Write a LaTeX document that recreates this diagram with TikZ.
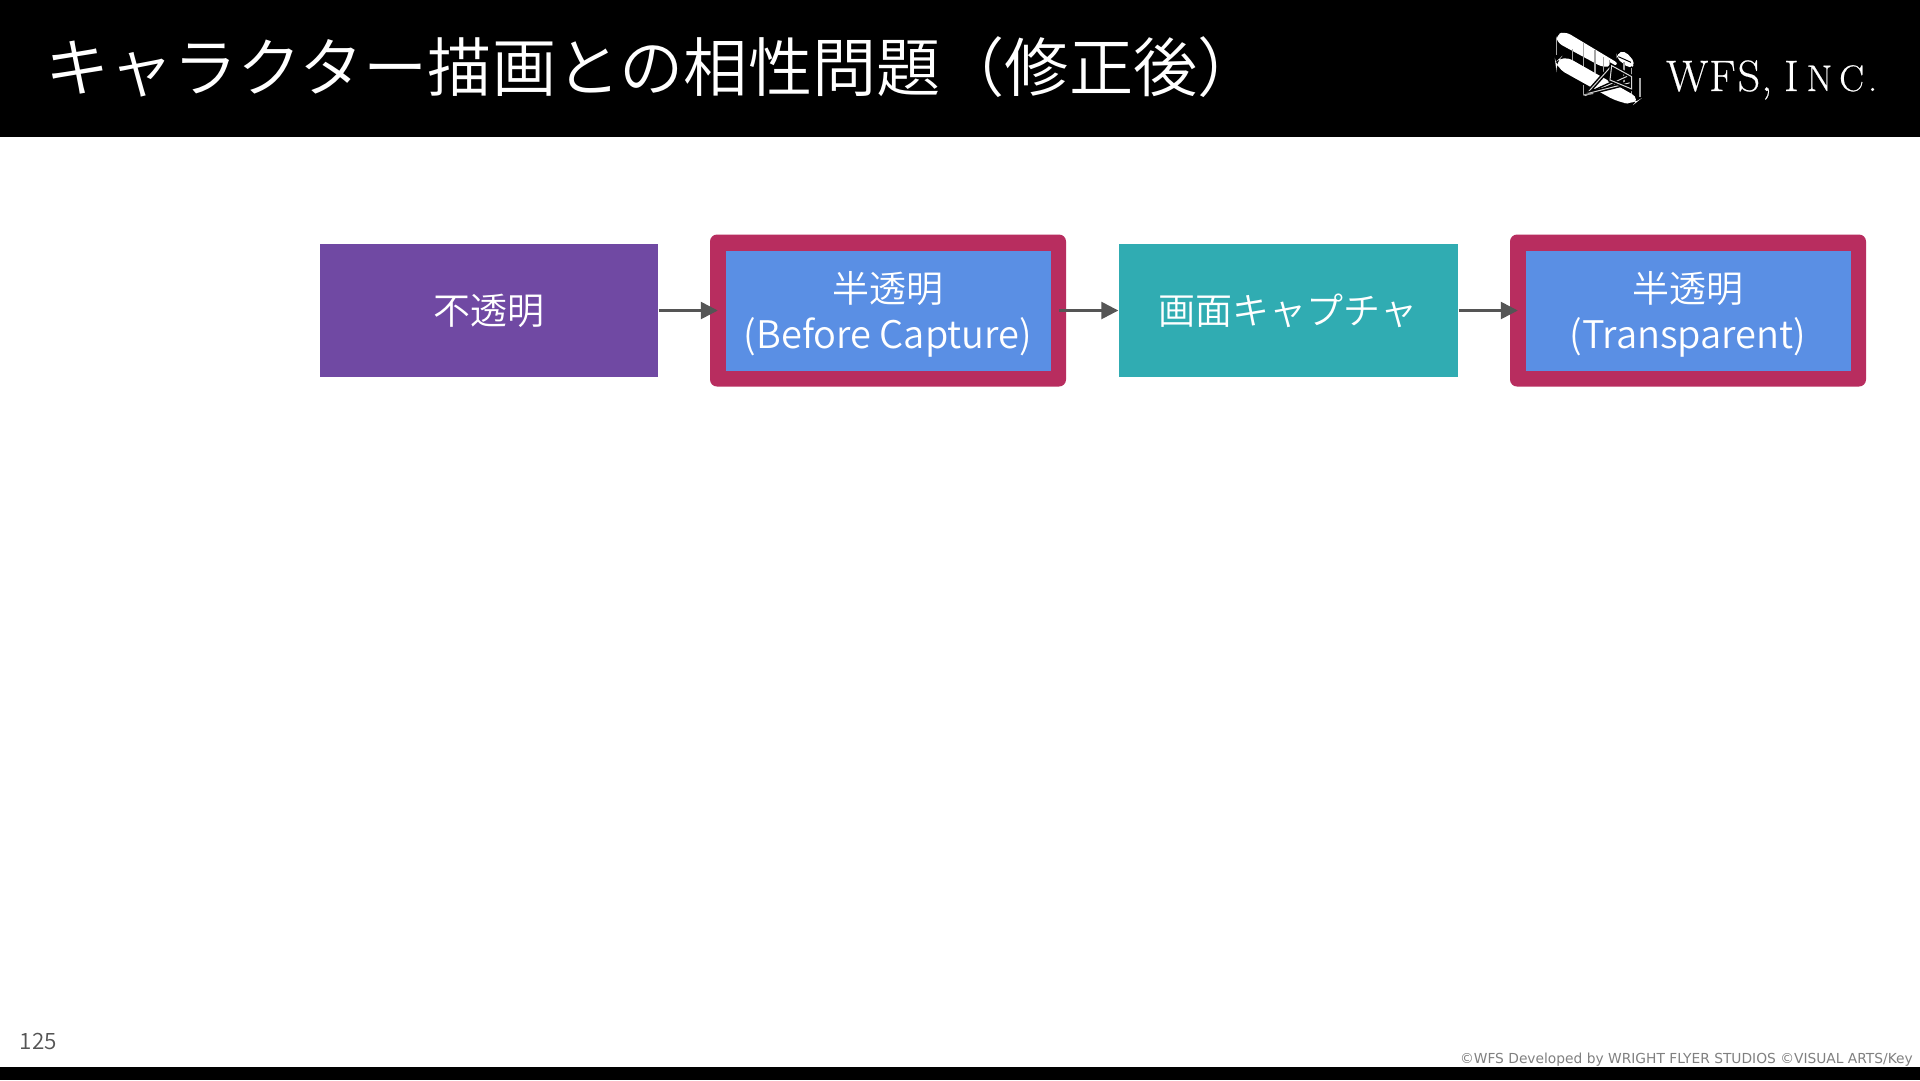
\documentclass[tikz,border=0pt]{standalone}
\usepackage{fontspec}
\setmainfont{Noto Sans CJK JP DemiLight}
\newfontfamily\footfont{DejaVu Sans}
\newfontfamily\logofont[FakeBold=0.5]{Latin Modern Roman}
\usetikzlibrary{arrows.meta}
\definecolor{cpurple}{HTML}{7049A3}
\definecolor{cpink}{HTML}{B82D5F}
\definecolor{cblue}{HTML}{5A8FE4}
\definecolor{cteal}{HTML}{30ACB2}
\definecolor{carrow}{HTML}{555555}
\newcommand{\latinline}[1]{{\fontsize{38}{46.5}\selectfont #1}}
\newcommand{\topstrut}{\rule{0pt}{39pt}}
\tikzset{
  flowbox/.style={inner sep=0pt,text=white,align=center,font=\fontsize{37}{46.5}\selectfont,minimum height=133pt},
  frame/.style={fill=cpink,rounded corners=7pt,inner sep=0pt,minimum width=356pt,minimum height=152pt},
  inbox/.style={flowbox,fill=cblue,minimum width=325pt,minimum height=120pt},
  conn/.style={draw=carrow,line width=2.5pt,-{Triangle[length=17pt,width=17pt]},shorten <=1pt},
  strut/.style={draw=white!65!black,line width=1.5pt},
  rig/.style={draw=black,line width=1.5pt,double=white!85!black,double distance=1pt}
}
\begin{document}
\begin{tikzpicture}[x=1pt,y=-1pt]
\useasboundingbox (0,0) rectangle (1920,1080);
\fill[white] (0,0) rectangle (1920,1080);
\fill[black] (0,0) rectangle (1920,137);
\fill[black] (0,1067) rectangle (1920,1080);
\node[anchor=west,inner sep=0pt,text=white,font=\fontsize{64.2}{64}\selectfont] (title) at (45,67) {キャラクター描画との相性問題（修正後）};
% logo
\begin{scope}[shift={(1550,25)},x=0.3333pt,y=-0.3333pt]
  \fill[white,rounded corners=6pt] (18,30) -- (45,19) -- (210,118) -- (160,128) -- (20,52) -- cycle;
  \fill[white,rounded corners=5pt] (200,85) -- (225,77) -- (257,115) -- (240,132) -- (200,100) -- cycle;
  \draw[black,line width=1pt] (205,95) -- (243,112);
  \foreach \a/\b/\c/\d in {20/40/20/90, 68/72/68/105, 100/55/100/125, 135/75/135/145, 160/95/160/165, 178/105/178/175, 222/110/222/190, 245/130/245/210, 270/160/270/215, 100/180/100/210}
    \draw[strut] (\a,\b) -- (\c,\d);
  \fill[white,rounded corners=10pt] (16,112) -- (40,90) -- (272,222) -- (252,238) -- (205,232) -- (18,128) -- cycle;
  \draw[rig] (105,212) -- (185,122);
  \draw[rig] (105,212) -- (240,150);
  \draw[rig] (115,205) -- (245,172);
  \draw[rig] (185,122) -- (245,155) -- (245,192) -- (180,165) -- cycle;
  \draw[strut] (100,210) -- (130,205);
\end{scope}
\node[anchor=base west,inner sep=0pt,text=white,font={\logofont\fontsize{44}{44}\selectfont}] (logo) at (1666,91) {W\kern 1pt F\kern 2pt S\kern 1pt,\kern 12pt I\fontsize{37}{37}\selectfont\kern 8pt N\kern 7pt C\kern 4pt .};
% flow
\node[flowbox,fill=cpurple,minimum width=338pt] (opaque) at (488.5,310.5) {不透明};
\node[frame] (f1) at (888,310.5) {};
\node[inbox] (before) at (888,310.5) {\topstrut 半透明\\\latinline{(Before Capture)}};
\node[flowbox,fill=cteal,minimum width=339pt] (capture) at (1288,310.5) {画面キャプチャ};
\node[frame] (f2) at (1688,310.5) {};
\node[inbox] (trans) at (1688,310.5) {\topstrut 半透明\\\latinline{(Transparent)}};
\draw[conn] (opaque.east) -- ([xshift=8pt]f1.west);
\draw[conn] ([xshift=-8pt]f1.east) -- (capture.west);
\draw[conn] (capture.east) -- ([xshift=8pt]f2.west);
% footer
\node[anchor=base west,inner sep=0pt,text=carrow,font=\fontsize{22.5}{23}\selectfont] (page) at (19.5,1049) {125};
\node[anchor=base east,inner sep=0pt,text=black!50,font={\footfont\fontsize{13.8}{15}\selectfont}] (copy) at (1913,1063) {©WFS Developed by WRIGHT FLYER STUDIOS ©VISUAL ARTS/Key};
\end{tikzpicture}
\end{document}
